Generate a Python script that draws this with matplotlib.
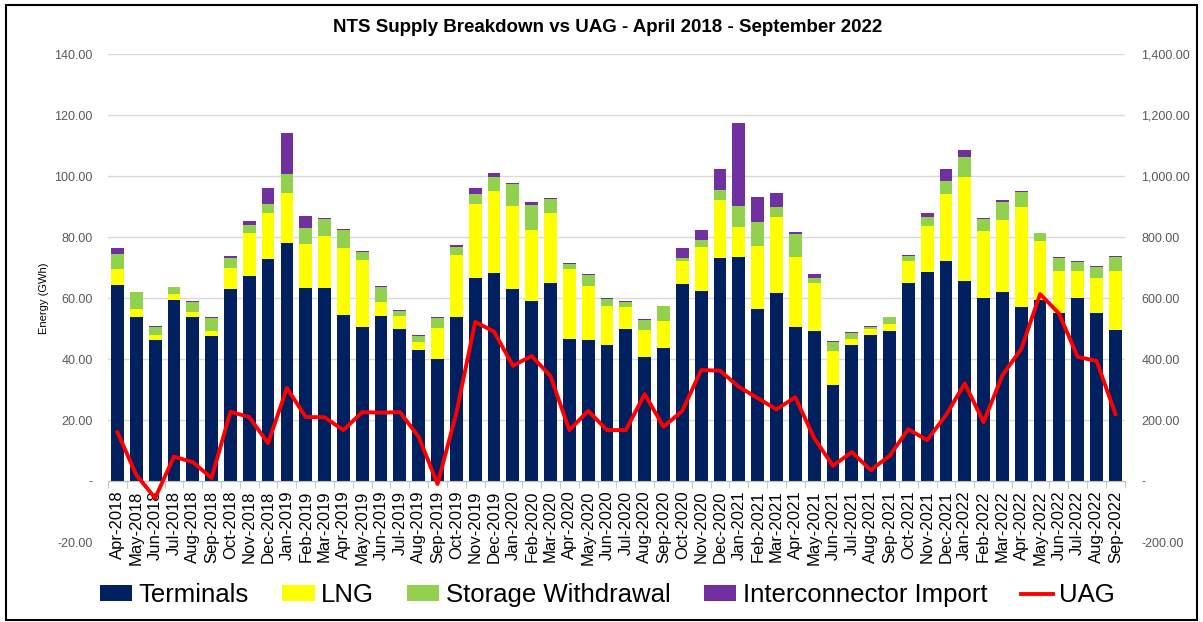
import matplotlib
matplotlib.use("Agg")
import matplotlib.pyplot as plt
from matplotlib.patches import Rectangle
from matplotlib.ticker import FuncFormatter, FixedLocator
import numpy as np

plt.rcParams["font.family"] = ["Liberation Sans", "DejaVu Sans"]

months = ["Apr-2018", "May-2018", "Jun-2018", "Jul-2018", "Aug-2018", "Sep-2018",
          "Oct-2018", "Nov-2018", "Dec-2018", "Jan-2019", "Feb-2019", "Mar-2019",
          "Apr-2019", "May-2019", "Jun-2019", "Jul-2019", "Aug-2019", "Sep-2019",
          "Oct-2019", "Nov-2019", "Dec-2019", "Jan-2020", "Feb-2020", "Mar-2020",
          "Apr-2020", "May-2020", "Jun-2020", "Jul-2020", "Aug-2020", "Sep-2020",
          "Oct-2020", "Nov-2020", "Dec-2020", "Jan-2021", "Feb-2021", "Mar-2021",
          "Apr-2021", "May-2021", "Jun-2021", "Jul-2021", "Aug-2021", "Sep-2021",
          "Oct-2021", "Nov-2021", "Dec-2021", "Jan-2022", "Feb-2022", "Mar-2022",
          "Apr-2022", "May-2022", "Jun-2022", "Jul-2022", "Aug-2022", "Sep-2022"]

# GWh per stack component
terminals = [64.3, 53.9, 46.2, 59.3, 53.7, 47.5, 63.0, 67.2, 72.8, 77.9, 63.4, 63.4,
             54.4, 50.6, 54.2, 49.8, 43.0, 40.0, 53.7, 66.5, 68.2, 63.0, 59.0, 65.0,
             46.6, 46.3, 44.6, 49.8, 40.7, 43.6, 64.6, 62.3, 73.1, 73.5, 56.4, 61.6,
             50.6, 49.3, 31.5, 44.6, 47.9, 49.3, 65.0, 68.5, 72.2, 65.7, 60.0, 62.0,
             57.0, 59.3, 55.0, 60.0, 55.2, 49.5]
lng = [5.1, 2.4, 1.7, 1.9, 1.8, 1.8, 6.9, 14.3, 15.2, 16.7, 14.4, 17.1,
       22.0, 21.8, 4.4, 4.3, 2.7, 10.3, 20.3, 24.3, 26.8, 27.2, 23.3, 22.8,
       22.9, 17.5, 12.7, 7.2, 8.8, 8.8, 7.5, 14.4, 19.0, 9.8, 20.6, 25.1,
       23.0, 15.7, 11.3, 2.0, 1.9, 2.2, 7.2, 15.1, 21.9, 34.1, 22.0, 23.6,
       33.0, 19.5, 13.9, 8.9, 11.4, 19.4]
storage = [5.2, 5.6, 2.5, 2.3, 3.1, 4.2, 3.3, 2.3, 2.7, 6.0, 5.3, 5.4,
           6.0, 2.7, 5.1, 1.7, 1.9, 3.2, 2.8, 3.3, 4.6, 7.2, 8.2, 4.6,
           1.7, 3.8, 2.5, 1.8, 3.3, 4.9, 1.0, 2.3, 3.2, 6.9, 8.0, 3.3,
           7.4, 1.7, 2.9, 2.0, 0.7, 2.2, 1.7, 3.1, 4.3, 6.6, 3.9, 5.9,
           4.8, 2.5, 4.3, 3.0, 3.7, 4.6]
interconnector = [1.8, 0.2, 0.3, 0.2, 0.3, 0.4, 0.7, 1.5, 5.5, 13.4, 3.9, 0.2,
                  0.3, 0.2, 0.2, 0.3, 0.4, 0.2, 0.5, 1.9, 1.4, 0.4, 0.9, 0.4,
                  0.3, 0.3, 0.2, 0.3, 0.3, 0.2, 3.3, 3.3, 7.0, 27.2, 8.1, 4.4,
                  0.6, 1.2, 0.3, 0.4, 0.3, 0.2, 0.2, 1.1, 3.9, 2.1, 0.3, 0.6,
                  0.2, 0.1, 0.3, 0.2, 0.3, 0.3]
# right axis
uag = [160, 20, -56, 80, 62, 10, 227, 210, 124, 305, 210, 209,
       167, 226, 224, 226, 145, -10, 223, 522, 490, 378, 410, 344,
       167, 230, 167, 167, 285, 178, 230, 364, 362, 309, 272, 235,
       275, 141, 50, 95, 36, 82, 170, 134, 216, 320, 193, 347,
       433, 613, 550, 407, 394, 220]

x = np.arange(len(months))
t = np.array(terminals)
l = np.array(lng)
s = np.array(storage)
ic = np.array(interconnector)

fig = plt.figure(figsize=(12.03, 6.22), dpi=100)
ax = fig.add_axes([0.0898, 0.1286, 0.8452, 0.7844])

w = 0.68
ax.bar(x, t, w, color="#002060", label="Terminals", zorder=2)
ax.bar(x, l, w, bottom=t, color="#FFFF00", label="LNG", zorder=2)
ax.bar(x, s, w, bottom=t + l, color="#92D050", label="Storage Withdrawal", zorder=2)
ax.bar(x, ic, w, bottom=t + l + s, color="#7030A0", label="Interconnector Import", zorder=2)

ax.set_xlim(-0.5, len(months) - 0.5)
ax.set_ylim(-20, 140)
ax.set_yticks(np.arange(-20, 141, 20))
ax.yaxis.set_major_formatter(FuncFormatter(lambda v, p: "-" if v == 0 else f"{v:,.2f}"))
ax.grid(axis="y", color="#d9d9d9", lw=1, zorder=0)
ax.set_axisbelow(True)
for side in ["left", "right", "top"]:
    ax.spines[side].set_visible(False)
ax.spines["bottom"].set_position(("data", 0))
ax.spines["bottom"].set_color("#bfbfbf")
ax.tick_params(axis="y", length=0, labelsize=9, labelcolor="#595959", pad=11)

ax.set_xticks(x)
ax.set_xticklabels(months, rotation=90, fontsize=12)
ax.xaxis.set_minor_locator(FixedLocator(np.arange(-0.5, len(months), 1)))
ax.tick_params(axis="x", which="major", length=0, pad=7)
ax.tick_params(axis="x", which="minor", length=5, color="#bfbfbf")
ax.set_ylabel("Energy (GWh)", fontsize=8, labelpad=4)

ax2 = ax.twinx()
ax2.plot(x, uag, color="#FF0000", lw=2.8, label="UAG", zorder=3)
ax2.set_ylim(-200, 1400)
ax2.set_yticks(np.arange(-200, 1401, 200))
ax2.yaxis.set_major_formatter(FuncFormatter(lambda v, p: "-" if v == 0 else f"{v:,.2f}"))
ax2.tick_params(axis="y", length=0, labelsize=9, labelcolor="#595959", pad=12)
for side in ["left", "right", "top", "bottom"]:
    ax2.spines[side].set_visible(False)

fig.text(0.505, 0.955, "NTS Supply Breakdown vs UAG - April 2018 - September 2022",
         ha="center", va="center", fontsize=13.5, fontweight="bold")

h1, lb1 = ax.get_legend_handles_labels()
h2, lb2 = ax2.get_legend_handles_labels()
fig.legend(h1 + h2, lb1 + lb2, loc="center", bbox_to_anchor=(0.505, 0.043), ncol=5,
           frameon=False, fontsize=18.5, handlelength=1.25, handleheight=0.55,
           handletextpad=0.25, columnspacing=1.3)

fig.patches.append(Rectangle((6 / 1203, 2 / 622), 1191 / 1203, 615 / 622,
                             transform=fig.transFigure, fill=False, ec="black", lw=1.5))

fig.savefig("out.png", dpi=100)
